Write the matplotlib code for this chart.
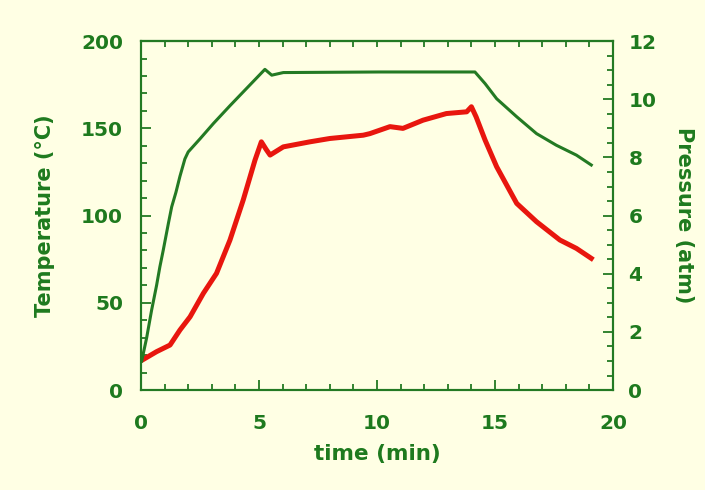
import matplotlib
matplotlib.use("Agg")
import matplotlib.pyplot as plt
from matplotlib.ticker import MultipleLocator

# Temperature (red, left axis)
temp_time = [0.03, 0.66, 1.23, 1.65, 2.08, 2.64, 3.2, 3.77, 4.33, 4.83, 5.1, 5.3, 5.47,
             6.03, 7.16, 8.0, 9.42, 9.7, 10.55, 11.1, 11.95, 12.94, 13.8, 14.0, 14.2,
             14.58, 15.07, 15.92, 16.76, 17.75, 18.45, 19.08]
temp_vals = [17, 22, 25.8, 34.4, 42, 55.4, 66.9, 86, 108.9, 131.8, 142.3, 138, 134.7,
             139.4, 142.3, 144.2, 146.1, 147, 151, 150, 154.7, 158.5, 159.5, 162.4, 156.6,
             143.3, 128, 107, 96.5, 86, 81.2, 75.5]

# Pressure (green, right axis)
pres_time = [0.03, 0.24, 0.45, 0.66, 0.8, 0.94, 1.16, 1.3, 1.48, 1.65, 1.86, 2.0, 2.5,
             3.07, 3.77, 4.48, 5.25, 5.54, 6.03, 10.1, 14.15, 14.58, 15.07, 15.92,
             16.76, 17.6, 18.45, 19.08]
pres_vals = [1.0, 1.8, 2.75, 3.6, 4.24, 4.8, 5.73, 6.3, 6.8, 7.35, 7.95, 8.19, 8.64,
             9.17, 9.78, 10.38, 11.03, 10.83, 10.92, 10.94, 10.94, 10.54, 10.02, 9.4,
             8.82, 8.42, 8.08, 7.74]

x_ticks = [0, 5, 10, 15, 20]
t_ticks = [0, 50, 100, 150, 200]
p_ticks = [0, 2, 4, 6, 8, 10, 12]

BG = '#FFFFE4'
TXT = '#1E7A1E'
GREEN = '#237A23'
RED = '#E8160E'

plt.rcParams['font.family'] = ['DejaVu Sans']
plt.rcParams['font.weight'] = 'bold'

fig = plt.figure(figsize=(7.05, 4.9), dpi=100, facecolor=BG)
ax = fig.add_axes([0.2, 0.204, 0.6695, 0.712])
ax.set_facecolor(BG)
ax2 = ax.twinx()

ax.plot(temp_time, temp_vals, color=RED, lw=3.6, solid_joinstyle='round', zorder=3)
ax2.plot(pres_time, pres_vals, color=GREEN, lw=2.2, zorder=3)

ax.set_xlim(0, 20)
ax.set_ylim(0, 200)
ax2.set_ylim(0, 12)

ax.set_xticks(x_ticks)
ax.set_yticks(t_ticks)
ax2.set_yticks(p_ticks)
ax.xaxis.set_minor_locator(MultipleLocator(1))
ax.yaxis.set_minor_locator(MultipleLocator(10))
ax2.yaxis.set_minor_locator(MultipleLocator(0.5))

for a in (ax, ax2):
    for s in a.spines.values():
        s.set_color(GREEN)
        s.set_linewidth(1.5)

ax.tick_params(axis='x', which='major', direction='in', length=7, width=1.3,
               color=GREEN, labelcolor=TXT, labelsize=14.5, pad=17)
ax.tick_params(axis='y', which='major', direction='in', length=7, width=1.3,
               color=GREEN, labelcolor=TXT, labelsize=14.5, pad=13)
ax.tick_params(axis='both', which='minor', direction='in', length=4, width=1.3, color=GREEN)
ax.tick_params(axis='y', right=False, which='both')
ax2.tick_params(axis='y', which='major', direction='in', length=7, width=1.3,
                color=GREEN, labelcolor=TXT, labelsize=14.5, pad=11)
ax2.tick_params(axis='y', which='minor', direction='in', length=4, width=1.3, color=GREEN)

top = ax.secondary_xaxis('top')
top.set_xticks(list(range(0, 21)))
top.tick_params(direction='in', length=4, width=1.3, color=GREEN, labeltop=False)
top.spines['top'].set_color(GREEN)
top.spines['top'].set_linewidth(1.5)

for lbl in ax.get_xticklabels() + ax.get_yticklabels() + ax2.get_yticklabels():
    lbl.set_fontweight('bold')

ax.set_xlabel('time (min)', color=TXT, fontsize=15.5, fontweight='bold', labelpad=8)
ax.set_ylabel('Temperature (°C)', color=TXT, fontsize=15, fontweight='bold', labelpad=19)
ax2.set_ylabel('Pressure (atm)', color=TXT, fontsize=15, fontweight='bold',
               rotation=270, labelpad=27)

fig.savefig('out.png', dpi=100, facecolor=BG)
